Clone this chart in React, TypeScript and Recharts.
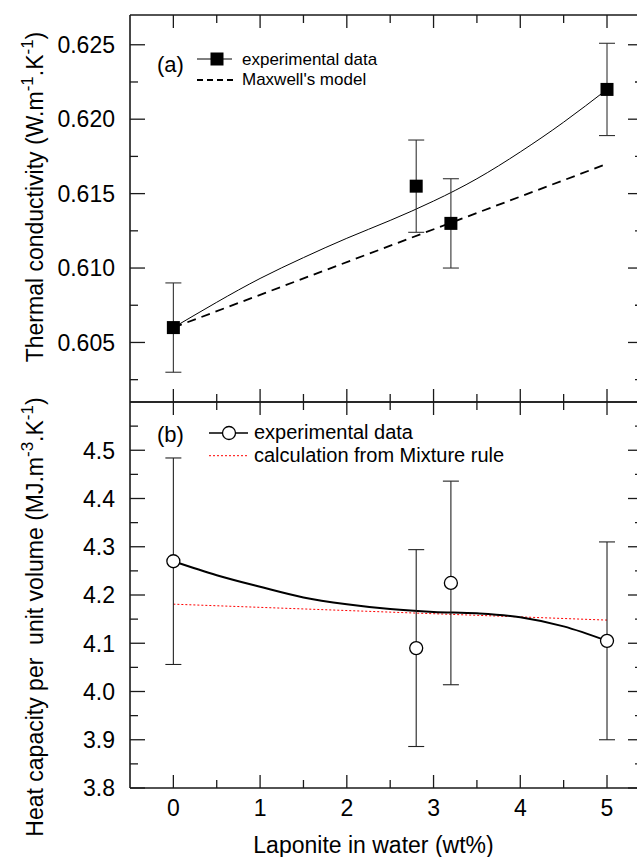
import React from 'react';
import { ComposedChart, Line, Scatter, XAxis, YAxis, ErrorBar, Legend } from 'recharts';

const FONT = '"Liberation Sans", Arial, Helvetica, sans-serif';

// ---------- shared x axis ----------
const X_DOMAIN: [number, number] = [-0.5, 5.415];
const X_TICKS = [0, 0.5, 1, 1.5, 2, 2.5, 3, 3.5, 4, 4.5, 5];
const X_MAJOR = [0, 1, 2, 3, 4, 5];
const X_LABELS = ['0', '1', '2', '3', '4', '5'];

// ---------- panel (a): thermal conductivity ----------
const A_DOMAIN: [number, number] = [0.601, 0.627];
const A_TICKS = [0.6025, 0.605, 0.6075, 0.61, 0.6125, 0.615, 0.6175, 0.62, 0.6225, 0.625];
const A_MAJOR = [0.605, 0.61, 0.615, 0.62, 0.625];
const A_LABELS = ['0.605', '0.610', '0.615', '0.620', '0.625'];

const A_EXP_X = [0, 2.8, 3.2, 5];
const A_EXP_Y = [0.606, 0.6155, 0.613, 0.622];
const A_EXP_ERR = [0.003, 0.0031, 0.003, 0.0031];

const A_FIT_X = [0, 0.5, 1, 1.5, 2, 2.5, 3, 3.5, 4, 4.5, 5];
const A_FIT_Y = [0.606, 0.6077, 0.6093, 0.6107, 0.612, 0.6132, 0.6145, 0.616, 0.6178, 0.6198, 0.622];

const A_MAXWELL_X = [0, 5];
const A_MAXWELL_Y = [0.606, 0.617];

// ---------- panel (b): heat capacity ----------
const B_DOMAIN: [number, number] = [3.8, 4.6];
const B_TICKS = [3.8, 3.85, 3.9, 3.95, 4.0, 4.05, 4.1, 4.15, 4.2, 4.25, 4.3, 4.35, 4.4, 4.45, 4.5, 4.55];
const B_MAJOR = [3.8, 3.9, 4.0, 4.1, 4.2, 4.3, 4.4, 4.5];
const B_LABELS = ['3.8', '3.9', '4.0', '4.1', '4.2', '4.3', '4.4', '4.5'];

const B_EXP_X = [0, 2.8, 3.2, 5];
const B_EXP_Y = [4.27, 4.09, 4.225, 4.105];
const B_EXP_ERR = [0.214, 0.204, 0.211, 0.205];

const B_FIT_X = [0, 0.5, 1, 1.5, 2, 2.5, 3, 3.5, 4, 4.5, 5];
const B_FIT_Y = [4.27, 4.241, 4.217, 4.195, 4.181, 4.171, 4.165, 4.162, 4.154, 4.135, 4.105];

const B_MIX_X = [0, 5];
const B_MIX_Y = [4.181, 4.148];

// ---------- build tables ----------
const zip = (xs: number[], ys: number[], errs?: number[]) =>
  xs.map((x, i) => ({ x, y: ys[i], err: errs ? errs[i] : 0 }));

const aExp = zip(A_EXP_X, A_EXP_Y, A_EXP_ERR);
const aFit = zip(A_FIT_X, A_FIT_Y);
const aMax = zip(A_MAXWELL_X, A_MAXWELL_Y);
const bExp = zip(B_EXP_X, B_EXP_Y, B_EXP_ERR);
const bFit = zip(B_FIT_X, B_FIT_Y);
const bMix = zip(B_MIX_X, B_MIX_Y);

const AXIS_COLOR = '#1a1a1a';
const majorIndex = (v: number, majors: number[]) => majors.findIndex((m) => Math.abs(m - v) < 1e-7);

type Side = 'left' | 'right' | 'top' | 'bottom';

const makeTick = (side: Side, majors: number[], labels: string[] | null) => (props: any) => {
  const { x, y, payload } = props;
  const idx = majorIndex(payload.value, majors);
  const major = idx >= 0;
  const horiz = side === 'top' || side === 'bottom';
  const len = horiz ? (major ? 13 : 8) : major ? 15 : 8;
  let line;
  if (side === 'left') line = <line x1={x} x2={x + len} y1={y} y2={y} />;
  else if (side === 'right') line = <line x1={x} x2={x - len} y1={y} y2={y} />;
  else if (side === 'top') line = <line x1={x} x2={x} y1={y} y2={y + len} />;
  else line = <line x1={x} x2={x} y1={y} y2={y - len} />;
  let label = null;
  if (labels && major) {
    if (side === 'left')
      label = (
        <text x={x - 15} y={y} dy="0.36em" textAnchor="end" fontSize={23} fontFamily={FONT} fill="#000" stroke="none">
          {labels[idx]}
        </text>
      );
    else if (side === 'bottom')
      label = (
        <text x={x} y={y + 27.5} textAnchor="middle" fontSize={23} fontFamily={FONT} fill="#000" stroke="none">
          {labels[idx]}
        </text>
      );
  }
  return (
    <g stroke={AXIS_COLOR} strokeWidth={1.3}>
      {line}
      {label}
    </g>
  );
};

const axisLine = { stroke: AXIS_COLOR, strokeWidth: 1.6 };

const squareShape = (p: any) => <rect x={p.cx - 6.5} y={p.cy - 6.5} width={13} height={13} fill="#000" />;
const circleShape = (p: any) => (
  <circle cx={p.cx} cy={p.cy} r={6.5} fill="#fff" stroke="#000" strokeWidth={1.3} />
);

const yTitleA = (props: any) => {
  const vb = props.viewBox || { x: 0, y: 15, width: 130, height: 387 };
  const cx = vb.x + 43;
  const cy = vb.y + vb.height / 2 - 11.5;
  return (
    <text x={cx} y={cy} transform={`rotate(-90 ${cx} ${cy})`} textAnchor="middle" fontSize={23} fontFamily={FONT} fill="#000">
      Thermal conductivity (W.m
      <tspan dy={-10} fontSize={17}>-1</tspan>
      <tspan dy={10}>.K</tspan>
      <tspan dy={-10} fontSize={17}>-1</tspan>
      <tspan dy={10}>)</tspan>
    </text>
  );
};

const yTitleB = (props: any) => {
  const vb = props.viewBox || { x: 0, y: 402, width: 130, height: 386 };
  const cx = vb.x + 43;
  const cy = vb.y + vb.height / 2 + 22;
  return (
    <text
      x={cx}
      y={cy}
      transform={`rotate(-90 ${cx} ${cy})`}
      textAnchor="middle"
      fontSize={23}
      fontFamily={FONT}
      fill="#000"
      style={{ whiteSpace: 'pre' }}
    >
      {'Heat capacity per  unit volume (MJ.m'}
      <tspan dy={-10} fontSize={17}>-3</tspan>
      <tspan dy={10}>.K</tspan>
      <tspan dy={-10} fontSize={17}>-1</tspan>
      <tspan dy={10}>)</tspan>
    </text>
  );
};

const xTitle = (props: any) => {
  const vb = props.viewBox || { x: 130, y: 788, width: 513, height: 60 };
  const cx = vb.x + vb.width / 2 - 13;
  return (
    <text x={cx} y={vb.y + 65} textAnchor="middle" fontSize={23} fontFamily={FONT} fill="#000">
      Laponite in water (wt%)
    </text>
  );
};

const legendA = () => (
  <svg width={260} height={55} style={{ display: 'block', overflow: 'visible' }}>
    <text x={9} y={24} fontSize={22} fontFamily={FONT} fill="#000">(a)</text>
    <line x1={49} x2={84} y1={11} y2={11} stroke="#000" strokeWidth={1} />
    <rect x={62.5} y={4.5} width={13} height={13} fill="#000" />
    <text x={94} y={16.5} fontSize={17} fontFamily={FONT} fill="#000">experimental data</text>
    <line x1={49} x2={89} y1={32} y2={32} stroke="#000" strokeWidth={1.8} strokeDasharray="6 4" />
    <text x={94} y={37} fontSize={17} fontFamily={FONT} fill="#000">Maxwell's model</text>
  </svg>
);

const legendB = () => (
  <svg width={380} height={60} style={{ display: 'block', overflow: 'visible' }}>
    <text x={9} y={27} fontSize={22} fontFamily={FONT} fill="#000">(b)</text>
    <line x1={61} x2={100} y1={18} y2={18} stroke="#000" strokeWidth={1.3} />
    <circle cx={81} cy={18} r={6.5} fill="#fff" stroke="#000" strokeWidth={1.3} />
    <text x={106} y={23.5} fontSize={20} fontFamily={FONT} fill="#000">experimental data</text>
    <line x1={61} x2={100} y1={40.7} y2={40.7} stroke="#ff0000" strokeWidth={1} strokeDasharray="2 2" />
    <text x={106} y={47} fontSize={20} fontFamily={FONT} fill="#000">calculation from Mixture rule</text>
  </svg>
);

const commonX = (id: any, orientation: 'top' | 'bottom', height: number, labels: string[] | null, extra: any = {}) => (
  <XAxis
    xAxisId={id}
    dataKey="x"
    type="number"
    orientation={orientation}
    domain={X_DOMAIN}
    allowDataOverflow
    ticks={X_TICKS}
    interval={0}
    height={height}
    tickSize={0}
    tickMargin={0}
    tickLine={false}
    axisLine={axisLine}
    tick={makeTick(orientation, X_MAJOR, labels)}
    {...extra}
  />
);

export default function App() {
  return (
    <div style={{ position: 'absolute', left: 0, top: 0, width: 637, height: 857, overflow: 'hidden', background: '#fff' }}>
      {/* Panel (a) */}
      <div style={{ position: 'absolute', left: 0, top: 0 }}>
        <ComposedChart width={670} height={410} margin={{ top: 14, right: 22, bottom: 7, left: 0 }}>
          {commonX(0, 'bottom', 1, null)}
          {commonX('top', 'top', 1, null)}
          <YAxis
            yAxisId={0}
            type="number"
            domain={A_DOMAIN}
            allowDataOverflow
            ticks={A_TICKS}
            interval={0}
            width={130}
            tickSize={0}
            tickMargin={0}
            tickLine={false}
            axisLine={axisLine}
            tick={makeTick('left', A_MAJOR, A_LABELS)}
            label={yTitleA}
          />
          <YAxis
            yAxisId="right"
            orientation="right"
            type="number"
            domain={A_DOMAIN}
            allowDataOverflow
            ticks={A_TICKS}
            interval={0}
            width={5}
            tickSize={0}
            tickMargin={0}
            tickLine={false}
            axisLine={axisLine}
            tick={makeTick('right', A_MAJOR, null)}
          />
          <Legend layout="horizontal" verticalAlign="middle" align="center" content={legendA}
            wrapperStyle={{ position: 'absolute', left: 148, top: 48, width: 260, height: 55 }} />
          <Line data={aMax} dataKey="y" type="linear" stroke="#000" strokeWidth={1.8} strokeDasharray="9 6" dot={false} isAnimationActive={false} />
          <Line data={aFit} dataKey="y" type="natural" stroke="#000" strokeWidth={1} dot={false} isAnimationActive={false} />
          <Scatter data={aExp} dataKey="y" shape={squareShape} isAnimationActive={false}>
            <ErrorBar dataKey="err" direction="y" width={8} stroke="#333" strokeWidth={1.1} />
          </Scatter>
        </ComposedChart>
      </div>

      {/* Panel (b) */}
      <div style={{ position: 'absolute', left: 0, top: 0 }}>
        <ComposedChart width={670} height={857} margin={{ top: 401, right: 22, bottom: 9, left: 0 }}>
          {commonX(0, 'bottom', 60, X_LABELS, { label: xTitle })}
          {commonX('top', 'top', 1, null)}
          <YAxis
            yAxisId={0}
            type="number"
            domain={B_DOMAIN}
            allowDataOverflow
            ticks={B_TICKS}
            interval={0}
            width={130}
            tickSize={0}
            tickMargin={0}
            tickLine={false}
            axisLine={axisLine}
            tick={makeTick('left', B_MAJOR, B_LABELS)}
            label={yTitleB}
          />
          <YAxis
            yAxisId="right"
            orientation="right"
            type="number"
            domain={B_DOMAIN}
            allowDataOverflow
            ticks={B_TICKS}
            interval={0}
            width={5}
            tickSize={0}
            tickMargin={0}
            tickLine={false}
            axisLine={axisLine}
            tick={makeTick('right', B_MAJOR, null)}
          />
          <Legend layout="horizontal" verticalAlign="middle" align="center" content={legendB}
            wrapperStyle={{ position: 'absolute', left: 148, top: 415, width: 380, height: 60 }} />
          <Line data={bMix} dataKey="y" type="linear" stroke="#ff0000" strokeWidth={1} strokeDasharray="2 2" dot={false} isAnimationActive={false} />
          <Line data={bFit} dataKey="y" type="monotone" stroke="#000" strokeWidth={2} dot={false} isAnimationActive={false} />
          <Scatter data={bExp} dataKey="y" shape={circleShape} isAnimationActive={false}>
            <ErrorBar dataKey="err" direction="y" width={8} stroke="#222" strokeWidth={1.1} />
          </Scatter>
        </ComposedChart>
      </div>
    </div>
  );
}
